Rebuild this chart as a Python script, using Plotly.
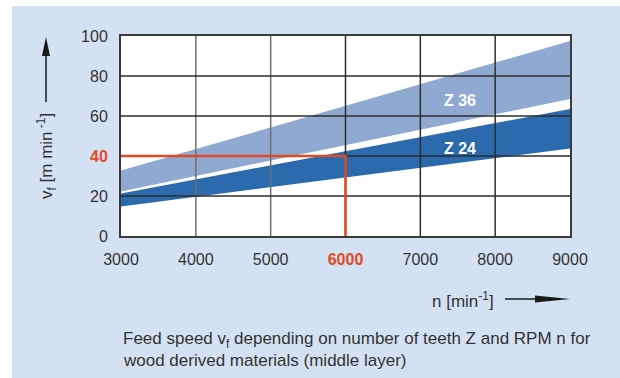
import plotly.graph_objects as go

# Spindle speed n [min^-1] at the ends of each band
n_ends = [3000, 9000]

# Feed speed bands v_f [m/min] for Z = 36 and Z = 24 teeth
z36_upper = [32.7, 97.5]
z36_lower = [22.3, 68.5]
z24_upper = [21.3, 63.5]
z24_lower = [14.7, 43.8]

# Worked example marked in red
mark_n = 6000
mark_vf = 40

# Axis ticks
x_ticks = [3000, 4000, 5000, 6000, 7000, 8000, 9000]
y_ticks = [0, 20, 40, 60, 80, 100]

# Band label positions (data units)
band_labels = ["Z 36", "Z 24"]
label_n = [7530, 7530]
label_vf = [67.6, 44.0]

RED = "#e04a26"
LIGHT_BAND = "#8fa9d1"
DARK_BAND = "#2a6aad"
PANEL = "#d4e1f2"
GRID = "#2e2e2e"
TEXT = "#333333"
FONT = "Liberation Sans, Arial, sans-serif"

# Plot-area geometry in pixels, used to place decorations in paper units
L, R, T, B = 121, 570, 36, 236


def px(x):
    return (x - L) / (R - L)


def py(y):
    return (B - y) / (B - T)


fig = go.Figure()


def band(upper, lower, color, name):
    xs = n_ends + n_ends[::-1]
    ys = upper + lower[::-1]
    fig.add_trace(go.Scatter(
        x=xs, y=ys, fill="toself", fillcolor=color, mode="none",
        name=name, hoverinfo="skip", showlegend=False,
    ))


band(z36_upper, z36_lower, LIGHT_BAND, "Z 36")
band(z24_upper, z24_lower, DARK_BAND, "Z 24")

# Grid drawn on top of the bands
for t in x_ticks[1:-1]:
    col = "#707070" if t < mark_n else GRID
    fig.add_trace(go.Scatter(
        x=[t, t], y=[y_ticks[0], y_ticks[-1]], mode="lines",
        line=dict(color=col, width=1.5), hoverinfo="skip", showlegend=False,
    ))
for t in y_ticks[1:-1]:
    fig.add_trace(go.Scatter(
        x=[x_ticks[0], x_ticks[-1]], y=[t, t], mode="lines",
        line=dict(color=GRID, width=1.5), hoverinfo="skip", showlegend=False,
    ))

# Example reading: 6000 min^-1 -> 40 m/min
fig.add_trace(go.Scatter(
    x=[x_ticks[0], mark_n, mark_n], y=[mark_vf, mark_vf, y_ticks[0]],
    mode="lines", line=dict(color=RED, width=2.5),
    hoverinfo="skip", showlegend=False,
))

# Band labels
for txt, xv, yv in zip(band_labels, label_n, label_vf):
    fig.add_annotation(
        x=xv, y=yv, xref="x", yref="y", text=f"<b>{txt}</b>",
        showarrow=False, font=dict(family=FONT, size=16, color="white"),
    )


def tick_text(vals, mark):
    out = []
    for v in vals:
        s = str(v)
        if v == mark:
            s = f"<b><span style='color:{RED}'>{s}</span></b>"
        out.append(s)
    return out


axis_common = dict(
    showgrid=False, zeroline=False, showline=True, mirror=True,
    linecolor="#3a3a3a", linewidth=2, layer="above traces",
    ticks="outside", tickcolor="rgba(0,0,0,0)",
    tickfont=dict(family=FONT, size=16, color=TEXT),
)

fig.update_xaxes(
    range=[x_ticks[0], x_ticks[-1]], tickvals=x_ticks,
    ticktext=tick_text(x_ticks, mark_n), ticklen=8, **axis_common,
)
fig.update_yaxes(
    range=[y_ticks[0], y_ticks[-1]], tickvals=y_ticks,
    ticktext=tick_text(y_ticks, mark_vf), ticklen=8, **axis_common,
)

# Axis titles with direction arrows
fig.add_annotation(
    x=px(46), y=py(156), xref="paper", yref="paper", textangle=-90,
    xanchor="center", yanchor="middle",
    text="v<sub>f</sub> [m min<sup> -1</sup>]", showarrow=False,
    font=dict(family=FONT, size=17, color=TEXT),
)
fig.add_annotation(
    x=px(463), y=py(300), xref="paper", yref="paper",
    xanchor="center", yanchor="middle",
    text="n [min<sup>-1</sup>]", showarrow=False,
    font=dict(family=FONT, size=17, color=TEXT),
)

# Caption
caption = [
    "Feed speed v<sub>f</sub> depending on number of teeth Z and RPM n for",
    "wood derived materials (middle layer)",
]
for line, yc in zip(caption, [340, 360]):
    fig.add_annotation(
        x=px(121), y=py(yc), xref="paper", yref="paper", xanchor="left",
        yanchor="middle", text=line, showarrow=False, align="left",
        font=dict(family=FONT, size=17, color=TEXT),
    )

shapes = [
    # white margins outside the tinted panel
    dict(type="rect", xref="paper", yref="paper", x0=px(-5), x1=px(12),
         y0=py(-5), y1=py(385), fillcolor="white", line=dict(width=0), layer="below"),
    dict(type="rect", xref="paper", yref="paper", x0=px(-5), x1=px(625),
         y0=py(-5), y1=py(6), fillcolor="white", line=dict(width=0), layer="below"),
    # vertical arrow
    dict(type="line", xref="paper", yref="paper", x0=px(46), x1=px(46),
         y0=py(102), y1=py(52), line=dict(color="#1a1a1a", width=1.5)),
    dict(type="path", xref="paper", yref="paper",
         path=f"M{px(46)},{py(37)} L{px(42)},{py(56)} L{px(50)},{py(56)} Z",
         fillcolor="#1a1a1a", line=dict(width=0)),
    # horizontal arrow
    dict(type="line", xref="paper", yref="paper", x0=px(505), x1=px(545),
         y0=py(299), y1=py(299), line=dict(color="#1a1a1a", width=1.5)),
    dict(type="path", xref="paper", yref="paper",
         path=f"M{px(570)},{py(299)} L{px(535)},{py(295.5)} L{px(535)},{py(302.5)} Z",
         fillcolor="#1a1a1a", line=dict(width=0)),
]

fig.update_layout(
    width=620, height=378,
    margin=dict(l=L, r=620 - R, t=T, b=378 - B, pad=0),
    paper_bgcolor=PANEL, plot_bgcolor="white",
    shapes=shapes, showlegend=False,
)

fig.write_html("out.html")
